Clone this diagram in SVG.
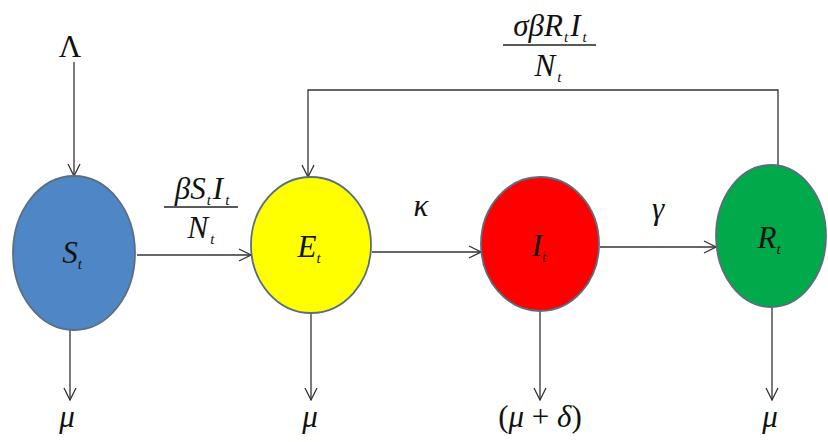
<svg xmlns="http://www.w3.org/2000/svg" width="828" height="442" viewBox="0 0 828 442">
<defs>
<marker id="ah" viewBox="0 0 14 14" refX="13" refY="7" markerWidth="14" markerHeight="14" markerUnits="userSpaceOnUse" orient="auto">
<path d="M1,1 L13,7 L1,13" fill="none" stroke="#333" stroke-width="1.3"/>
</marker>
<style>
.c{stroke:#5a6e80;stroke-width:1.8}
.l{stroke:#333;stroke-width:1.3;fill:none}
.m{font-family:"Liberation Serif",serif;font-style:italic;font-size:31px;fill:#111}
.s{font-size:15px}
.u{font-style:normal}
</style>
</defs>
<g id="connectors">
<line class="l" x1="74" y1="62" x2="74" y2="176" marker-end="url(#ah)"/>
<line class="l" x1="137" y1="255" x2="251" y2="255" marker-end="url(#ah)"/>
<line class="l" x1="372" y1="252" x2="481" y2="252" marker-end="url(#ah)"/>
<line class="l" x1="600" y1="247" x2="716" y2="247" marker-end="url(#ah)"/>
<polyline class="l" points="778,165 778,90 308,90 308,177" marker-end="url(#ah)"/>
<line class="l" x1="70" y1="330" x2="70" y2="400" marker-end="url(#ah)"/>
<line class="l" x1="311" y1="312" x2="311" y2="400" marker-end="url(#ah)"/>
<line class="l" x1="540" y1="310" x2="540" y2="400" marker-end="url(#ah)"/>
<line class="l" x1="772" y1="307" x2="772" y2="400" marker-end="url(#ah)"/>
<line x1="164" y1="207" x2="238" y2="207" stroke="#222" stroke-width="1.6"/>
<line x1="503" y1="45" x2="596" y2="45" stroke="#222" stroke-width="1.6"/>
</g>
<g id="S">
<ellipse class="c" cx="74" cy="253" rx="61" ry="77" fill="#4f86c6"/>
<text class="m" x="72" y="263" text-anchor="middle">S<tspan class="s" dy="6">t</tspan></text>
</g>
<g id="E">
<ellipse class="c" cx="311" cy="245" rx="60" ry="68" fill="#ffff00"/>
<text class="m" x="309" y="257" text-anchor="middle">E<tspan class="s" dy="6">t</tspan></text>
</g>
<g id="I">
<ellipse class="c" cx="540" cy="244" rx="59" ry="67" fill="#ff0000"/>
<text class="m" x="539" y="256" text-anchor="middle">I<tspan class="s" dy="6">t</tspan></text>
</g>
<g id="R">
<ellipse class="c" cx="771" cy="236" rx="55" ry="71" fill="#00a94a"/>
<text class="m" x="769" y="248" text-anchor="middle">R<tspan class="s" dy="6">t</tspan></text>
</g>
<g id="labels">
<text class="m u" x="70" y="57" text-anchor="middle">Λ</text>
<text class="m" x="202" y="199" text-anchor="middle">βS<tspan class="s" dy="6" dx="1">t</tspan><tspan dy="-6" dx="2">I</tspan><tspan class="s" dy="6" dx="2">t</tspan></text>
<text class="m" x="201" y="238" text-anchor="middle">N<tspan class="s" dy="6" dx="2">t</tspan></text>
<text class="m" x="421" y="216" text-anchor="middle">κ</text>
<text class="m" x="658" y="219" text-anchor="middle">γ</text>
<text class="m" x="550" y="36" text-anchor="middle">σβR<tspan class="s" dy="6" dx="1">t</tspan><tspan dy="-6" dx="2">I</tspan><tspan class="s" dy="6" dx="2">t</tspan></text>
<text class="m" x="548" y="76" text-anchor="middle">N<tspan class="s" dy="6" dx="2">t</tspan></text>
<text class="m" x="67" y="427" text-anchor="middle">μ</text>
<text class="m" x="310" y="427" text-anchor="middle">μ</text>
<text class="m" x="540" y="427" text-anchor="middle"><tspan class="u">(</tspan>μ<tspan class="u"> + </tspan>δ<tspan class="u">)</tspan></text>
<text class="m" x="770" y="427" text-anchor="middle">μ</text>
</g>
</svg>
